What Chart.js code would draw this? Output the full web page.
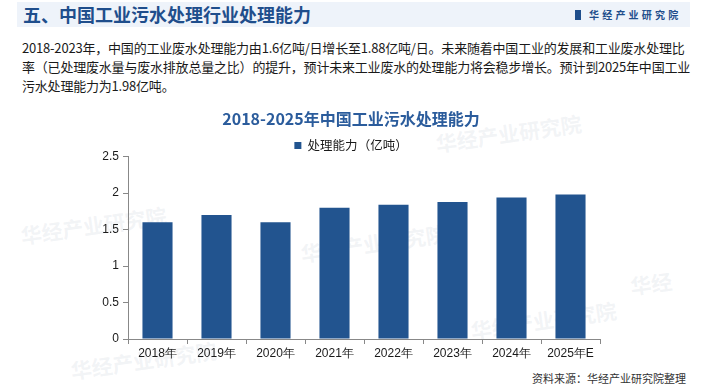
<!DOCTYPE html>
<html>
<head>
<meta charset="utf-8">
<script src="https://cdn.jsdelivr.net/npm/chart.js@4.4.1/dist/chart.umd.min.js"></script>
<style>
  body { margin: 0; width: 702px; height: 387px; background: #fff; position: relative; overflow: hidden; font-family: "Noto Sans CJK SC", sans-serif; }
  .head { position: absolute; left: 17px; top: 2px; width: 673px; height: 25px; background: #eef3fa; }
  .head .t { position: absolute; left: 6px; top: 0px; font-size: 18px; font-weight: bold; color: #1f4e8c; line-height: 25px; white-space: nowrap; }
  .head .logo { position: absolute; left: 558px; top: 0; line-height: 25px; font-size: 10px; font-weight: bold; color: #1f4e8c; letter-spacing: 3.2px; white-space: nowrap; }
  .head .logo i { display: inline-block; width: 6px; height: 10px; background: #1f4e8c; margin-right: 8px; vertical-align: -1px; }
  .para { position: absolute; left: 22px; top: 38px; font-size: 13px; line-height: 19px; color: #1a1a1a; white-space: nowrap; letter-spacing: -0.2px; }
  .wm { position: absolute; font-size: 21px; font-weight: bold; color: rgba(175,185,200,0.17); transform: rotate(-8deg); white-space: nowrap; }
  .src { position: absolute; right: 16px; top: 370px; font-size: 11px; color: #333; white-space: nowrap; }
  #wrap { position: absolute; left: 0; top: 101px; width: 702px; height: 269px; }
</style>
</head>
<body>
<div class="head">
  <div class="t">五、中国工业污水处理行业处理能力</div>
  <div class="logo"><i></i>华经产业研究院</div>
</div>
<div class="para">2018-2023年，中国的工业废水处理能力由1.6亿吨/日增长至1.88亿吨/日。未来随着中国工业的发展和工业废水处理比<br>率（已处理废水量与废水排放总量之比）的提升，预计未来工业废水的处理能力将会稳步增长。预计到2025年中国工业<br>污水处理能力为1.98亿吨。</div>
<div class="wm" style="left:20px;top:210px;">华经产业研究院</div>
<div class="wm" style="left:435px;top:118px;">华经产业研究院</div>
<div class="wm" style="left:630px;top:268px;">华经</div>
<div class="wm" style="left:70px;top:345px;">华经产业研究院</div>
<div class="wm" style="left:300px;top:228px;">华经产业研究院</div>
<div class="wm" style="left:470px;top:305px;">华经产业研究院</div>
<div id="wrap"><canvas id="c"></canvas></div>
<div class="src">资料来源：华经产业研究院整理</div>
<script>
var categories = ["2018年", "2019年", "2020年", "2021年", "2022年", "2023年", "2024年", "2025年E"];
var capacity = [1.6, 1.7, 1.6, 1.8, 1.84, 1.88, 1.94, 1.98];
var yTicks = [0, 0.5, 1, 1.5, 2, 2.5];

const config = {
    type: "bar",
    data: {
        labels: categories,
        datasets: [{
            label: "处理能力（亿吨）",
            data: capacity,
            backgroundColor: "#22548f",
            categoryPercentage: 0.51,
            barPercentage: 1
        }]
    },
    options: {
        responsive: true,
        maintainAspectRatio: false,
        animation: false,
        layout: { padding: 0 },
        plugins: {
            title: {
                display: true,
                text: "2018-2025年中国工业污水处理能力",
                color: "#2b5c9c",
                font: { size: 16, weight: "bold", family: "Noto Sans CJK SC" },
                padding: { top: 8, bottom: 10 }
            },
            legend: {
                display: true,
                labels: {
                    boxWidth: 7, boxHeight: 7,
                    color: "#1a1a1a",
                    font: { size: 12.5, family: "Noto Sans CJK SC" },
                    padding: 1
                }
            },
            tooltip: { enabled: false }
        },
        scales: {
            x: {
                grid: { display: true, drawOnChartArea: false, offset: true, tickLength: 5, color: "#888" },
                border: { color: "#888" },
                ticks: { color: "#1a1a1a", font: { size: 12, family: "Liberation Sans" }, padding: 2, maxRotation: 0 },
                afterFit: function(scale) { scale.height = 31; }
            },
            y: {
                min: 0, max: 2.5,
                afterBuildTicks: function(scale) { scale.ticks = yTicks.map(function(v) { return { value: v }; }); },
                grid: { display: true, drawOnChartArea: false, tickLength: 5, color: "#888" },
                border: { color: "#888" },
                ticks: { color: "#1a1a1a", font: { size: 12, family: "Liberation Sans" }, padding: 4,
                         callback: function(v) { return String(v); } },
                afterFit: function(scale) { scale.width = 128; }
            },
            // empty axis on the right just to keep the plot narrow
            spacer: {
                type: "linear", position: "right", display: true,
                grid: { display: false }, border: { display: false },
                ticks: { display: false },
                afterFit: function(scale) { scale.width = 102; }
            }
        }
    }
};

var chart = new Chart(document.getElementById("c"), config);

// legend sits very close to the plot in the original, so trim its box a bit
var legendFit = chart.legend.fit;
chart.legend.fit = function() {
    legendFit.call(this);
    this.height -= 5;
};
chart.update();
</script>
</body>
</html>
